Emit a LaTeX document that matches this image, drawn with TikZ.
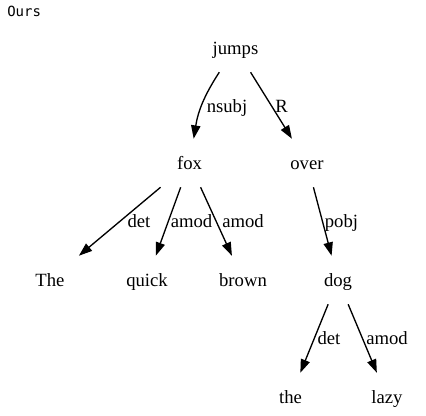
\documentclass[tikz,border=0pt]{standalone}
\usepackage{fontspec}
\setmainfont{Liberation Serif}
\newfontfamily\oursfont{DejaVu Sans Mono}
\usetikzlibrary{arrows.meta}
\begin{document}
\begin{tikzpicture}[x=0.75pt,y=-0.75pt,
  word/.style={minimum width=54pt, minimum height=36pt, inner sep=0pt,
    text height=13pt, text depth=2.5pt, font=\fontsize{14}{16}\selectfont},
  lab/.style={inner sep=0pt, anchor=base, font=\fontsize{14}{16}\selectfont},
  edge/.style={draw=black, line width=1pt, -{Triangle[length=10pt,width=7pt]}}]
\useasboundingbox (0,0) rectangle (426,416);
\node[anchor=base west, inner sep=0pt, font=\oursfont\fontsize{10.5}{12}\selectfont] (title) at (7,17) {Ours};
% words
\node[word] (jumps) at (235.5,48) {jumps};
\node[word] (fox) at (189.5,163) {fox};
\node[word] (over) at (307,163) {over};
\node[word] (The) at (50,280) {The};
\node[word] (quick) at (147,280) {quick};
\node[word] (brown) at (243,280) {brown};
\node[word] (dog) at (338,280) {dog};
\node[word] (the) at (290.5,397) {the};
\node[word] (lazy) at (387,397) {lazy};
% edges
\draw[edge] (jumps) to[bend right=12] (fox);
\draw[edge] (jumps) -- (over);
\draw[edge] (fox) -- (The);
\draw[edge] (fox) -- (quick);
\draw[edge] (fox) -- (brown);
\draw[edge] (over) -- (dog);
\draw[edge] (dog) -- (the);
\draw[edge] (dog) -- (lazy);
% labels
\node[lab] (lnsubj) at (227,113) {nsubj};
\node[lab] (lR) at (281.5,113) {R};
\node[lab] (ldet1) at (139,228) {det};
\node[lab] (lamod1) at (191.5,228) {amod};
\node[lab] (lamod2) at (243,228) {amod};
\node[lab] (lpobj) at (341.5,228) {pobj};
\node[lab] (ldet2) at (329,345) {det};
\node[lab] (lamod3) at (387,345) {amod};
\end{tikzpicture}
\end{document}
